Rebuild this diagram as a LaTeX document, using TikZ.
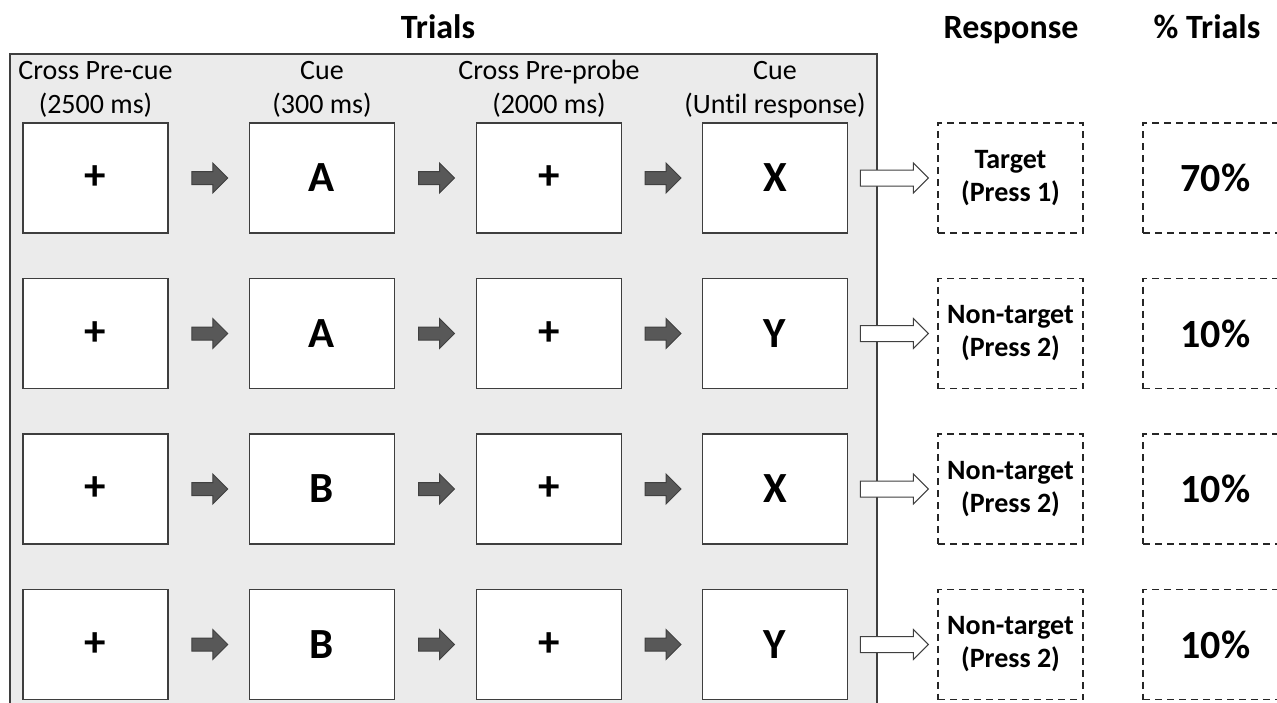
\documentclass[tikz,border=0pt]{standalone}
\usepackage{fontspec}
\setmainfont{Carlito}[Ligatures=NoCommon]
\usepackage{tikz}
\usepackage{xcolor}
\usetikzlibrary{positioning, calc}
\definecolor{cPanel}{RGB}{235,235,235}
\definecolor{cEdge}{RGB}{62,62,62}
\definecolor{cArrow}{RGB}{88,88,88}
\tikzset{
	panel/.style    ={fill=cPanel, draw=cEdge, line width=0.8pt},
	screen/.style   ={rectangle, draw=cEdge, fill=white, line width=0.8pt, minimum width=72.5pt, minimum height=55pt, inner sep=0pt, font=\fontsize{21.5}{24}\selectfont\bfseries},
	dashbox/.style  ={rectangle, draw=black!85, dash pattern=on 3.5pt off 2.5pt, line width=0.6pt, minimum width=72.5pt, minimum height=55pt, inner sep=0pt, align=center},
	respbox/.style  ={dashbox, font=\fontsize{14}{16.5}\selectfont\bfseries},
	pctbox/.style   ={dashbox, font=\fontsize{20}{23}\selectfont\bfseries},
	steplabel/.style={align=center, inner sep=0pt, font=\fontsize{14}{17}\selectfont},
	heading/.style  ={anchor=base, inner sep=0pt, font=\fontsize{17}{20}\selectfont\bfseries},
	% block arrows
	darkarrow/.style={fill=cArrow, draw=black!75, line width=0.5pt, line join=miter},
	openarrow/.style={fill=white, draw=black!75, line width=0.5pt, line join=miter},
}

\begin{document}
\begin{tikzpicture}[x=0.5pt, y=-0.5pt]
	\clip (0,0) rectangle (1277,702);
	\draw[panel] (10,54) rectangle (877,730);
	\node[heading] (hTrials) at (438,38) {Trials};
	\node[heading] (hResp) at (1011,38) {Response};
	\node[heading] (hPct) at (1207,38) {\% Trials};
	\foreach \r/\y/\cue/\probe/\resp/\pct in {1/178/A/X/{Target\\(Press 1)}/{70\%},
			2/333.5/A/Y/{Non-target\\(Press 2)}/{10\%},
			3/489/B/X/{Non-target\\(Press 2)}/{10\%},
			4/644.5/B/Y/{Non-target\\(Press 2)}/{10\%}} {
		\node[screen] (fix-\r) at (95.5,\y) {+};
		\node[screen] (cue-\r) at (322,\y) {\cue};
		\node[screen] (pre-\r) at (549,\y) {+};
		\node[screen] (probe-\r) at (775,\y) {\probe};
		\node[respbox] (resp-\r) at (1010.5,\y) {\resp};
		\node[pctbox] (pct-\r) at (1215.5,\y) {\pct};
		\foreach \a/\b in {fix/cue, pre/probe, cue/pre}
			\draw[darkarrow] ($(\a-\r.east)!0.5!(\b-\r.west)$) ++(-17,-6.5) -- ++(21,0) -- ++(0,-8.5)
				-- ++(15,15) -- ++(-15,15) -- ++(0,-8.5) -- ++(-21,0) -- cycle;
		\draw[openarrow] ($(probe-\r.east)+(12,0)$) ++(0,-8) -- ++(53,0) -- ++(0,-7)
			-- ++(15,15) -- ++(-15,15) -- ++(0,-7) -- ++(-53,0) -- cycle;
	}
	% timing labels over the first row
	\node[steplabel, above=2pt of fix-1] (lab-fix) {Cross Pre-cue\\(2500 ms)};
	\node[steplabel, above=2pt of cue-1] (lab-cue) {Cue\\(300 ms)};
	\node[steplabel, above=2pt of pre-1] (lab-pre) {Cross Pre-probe\\(2000 ms)};
	\node[steplabel, above=2pt of probe-1] (lab-probe) {Cue\\(Until response)};
\end{tikzpicture}
\end{document}
